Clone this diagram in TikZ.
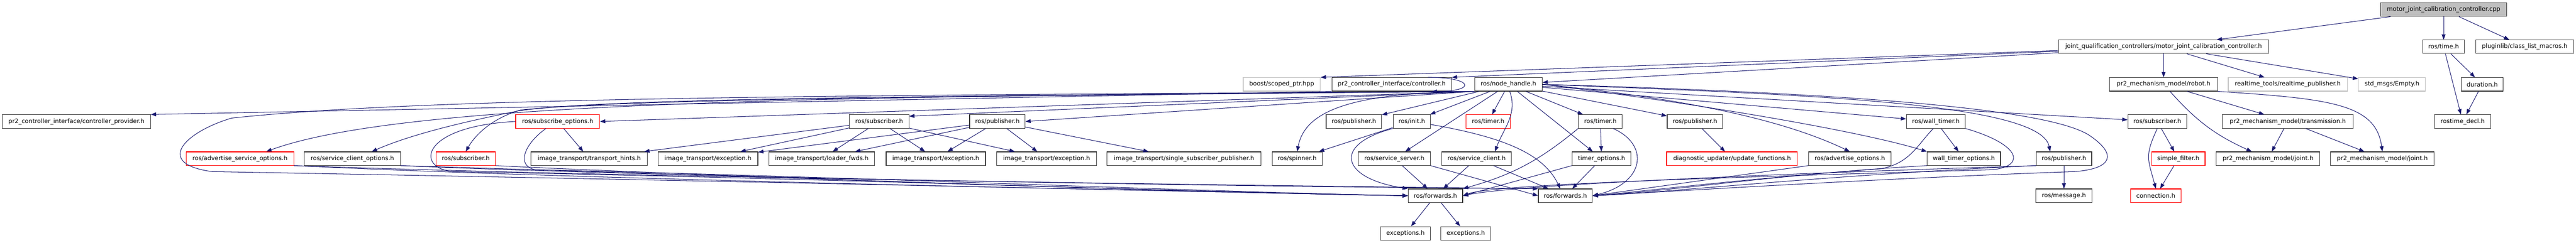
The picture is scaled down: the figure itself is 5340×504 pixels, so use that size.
\documentclass[tikz,border=0pt]{standalone}
\usepackage{fontspec}
\setmainfont{DejaVu Sans}
\usetikzlibrary{arrows.meta}
\definecolor{edgeblue}{RGB}{25,25,112}
\definecolor{extgray}{RGB}{191,191,191}
\tikzset{
    hfile/.style={
           rectangle,
           draw=black!80, line width=1.2pt,
           minimum height=28pt,
           inner sep=1pt,
           text centered,
           font=\fontsize{12.5}{15}\selectfont,
           },
    extfile/.style={hfile, draw=extgray},
    truncfile/.style={hfile, draw=red},
    rootfile/.style={hfile, fill=extgray},
    dep/.style={->, draw=edgeblue, line width=1.1pt},
}

\begin{document}
\begin{tikzpicture}[x=1pt, y=-1pt, >={Triangle[length=11pt,width=8pt]}, every edge/.style={dep}]
\useasboundingbox (0,0) rectangle (5340,504);

        % the source file
        \node[rootfile, minimum width=261pt] (H_ROOT) at (5065.5,20) {motor\_joint\_calibration\_controller.cpp};

        % row 1
        \node[hfile, minimum width=436pt] (H_MJCC) at (4485,97) {joint\_qualification\_controllers/motor\_joint\_calibration\_controller.h};
        \node[hfile, minimum width=87pt] (H_TIME) at (5065.5,97) {ros/time.h};
        \node[hfile, minimum width=203pt] (H_PLUGIN) at (5233.5,97) {pluginlib/class\_list\_macros.h};

        % row 2
        \node[extfile, minimum width=160pt] (H_SCOPED) at (2657,175) {boost/scoped\_ptr.hpp};
        \node[hfile, minimum width=248pt] (H_CTRL) at (2885,175) {pr2\_controller\_interface/controller.h};
        \node[hfile, minimum width=140pt] (H_NH) at (3127,175) {ros/node\_handle.h};
        \node[hfile, minimum width=224pt] (H_ROBOT) at (4485,175) {pr2\_mechanism\_model/robot.h};
        \node[extfile, minimum width=247pt] (H_RTPUB) at (4742.5,175) {realtime\_tools/realtime\_publisher.h};
        \node[extfile, minimum width=139pt] (H_EMPTY) at (4958.5,175) {std\_msgs/Empty.h};
        \node[hfile, minimum width=87pt] (H_DURATION) at (5145.5,175) {duration.h};

        % row 3
        \node[hfile, minimum width=307pt] (H_PROVIDER) at (158.5,252) {pr2\_controller\_interface/controller\_provider.h};
        \node[truncfile, minimum width=174pt] (H_SUBOPT) at (1156,252) {ros/subscribe\_options.h};
        \node[hfile, minimum width=123pt] (H_ITSUB) at (1822.5,252) {ros/subscriber.h};
        \node[hfile, minimum width=115pt] (H_ITPUB) at (2067.5,252) {ros/publisher.h};
        \node[hfile, minimum width=115pt] (H_PUB2) at (2806.5,252) {ros/publisher.h};
        \node[hfile, minimum width=77pt] (H_INIT) at (2926.5,252) {ros/init.h};
        \node[truncfile, minimum width=92pt] (H_TIMERR) at (3085,252) {ros/timer.h};
        \node[hfile, minimum width=91pt] (H_TIMER) at (3317.5,252) {ros/timer.h};
        \node[hfile, minimum width=115pt] (H_PUB3) at (3513.5,252) {ros/publisher.h};
        \node[hfile, minimum width=122pt] (H_WALL) at (4013,252) {ros/wall\_timer.h};
        \node[hfile, minimum width=122pt] (H_SUB4) at (4472,252) {ros/subscriber.h};
        \node[hfile, minimum width=271pt] (H_TRANS) at (4742.5,252) {pr2\_mechanism\_model/transmission.h};
        \node[hfile, minimum width=116pt] (H_DECL) at (5105,252) {rostime\_decl.h};

        % row 4
        \node[truncfile, minimum width=223pt] (H_ADVSRV) at (497.5,329) {ros/advertise\_service\_options.h};
        \node[hfile, minimum width=199pt] (H_SRVCLIOPT) at (730.5,329) {ros/service\_client\_options.h};
        \node[truncfile, minimum width=123pt] (H_SUBR) at (965.5,329) {ros/subscriber.h};
        \node[hfile, minimum width=241pt] (H_HINTS) at (1221.5,329) {image\_transport/transport\_hints.h};
        \node[hfile, minimum width=207pt] (H_EXC1) at (1467.5,329) {image\_transport/exception.h};
        \node[hfile, minimum width=219pt] (H_LOADER) at (1703.5,329) {image\_transport/loader\_fwds.h};
        \node[hfile, minimum width=206pt] (H_EXC2) at (1940,329) {image\_transport/exception.h};
        \node[hfile, minimum width=207pt] (H_EXC3) at (2169.5,329) {image\_transport/exception.h};
        \node[hfile, minimum width=319pt] (H_SINGLE) at (2454.5,329) {image\_transport/single\_subscriber\_publisher.h};
        \node[hfile, minimum width=104pt] (H_SPINNER) at (2689,329) {ros/spinner.h};
        \node[hfile, minimum width=149pt] (H_SRVSRV) at (2890.5,329) {ros/service\_server.h};
        \node[hfile, minimum width=144pt] (H_SRVCLI) at (3061,329) {ros/service\_client.h};
        \node[hfile, minimum width=122pt] (H_TIMEROPT) at (3320,329) {timer\_options.h};
        \node[truncfile, minimum width=271pt] (H_DIAG) at (3590.5,329) {diagnostic\_updater/update\_functions.h};
        \node[hfile, minimum width=171pt] (H_ADVOPT) at (3834.5,329) {ros/advertise\_options.h};
        \node[hfile, minimum width=152pt] (H_WALLOPT) at (4071,329) {wall\_timer\_options.h};
        \node[hfile, minimum width=115pt] (H_PUB4) at (4278.5,329) {ros/publisher.h};
        \node[truncfile, minimum width=111pt] (H_FILTER) at (4515.5,329) {simple\_filter.h};
        \node[hfile, minimum width=215pt] (H_JOINT1) at (4701.5,329) {pr2\_mechanism\_model/joint.h};
        \node[hfile, minimum width=215pt] (H_JOINT2) at (4938.5,329) {pr2\_mechanism\_model/joint.h};

        % row 5
        \node[hfile, minimum width=113pt] (H_FWD1) at (2975.5,406) {ros/forwards.h};
        \node[hfile, minimum width=112pt] (H_FWD2) at (3245,406) {ros/forwards.h};
        \node[hfile, minimum width=117pt] (H_MSG) at (4278.5,406) {ros/message.h};
        \node[truncfile, minimum width=104pt] (H_CONN) at (4469,406) {connection.h};

        % row 6
        \node[hfile, minimum width=103pt] (H_EXCA) at (2913.5,484) {exceptions.h};
        \node[hfile, minimum width=103pt] (H_EXCB) at (3038.5,484) {exceptions.h};

        % straight includes
        \path
            (H_ROOT)        edge (H_MJCC)
            (H_ROOT)        edge (H_TIME)
            (H_ROOT)        edge (H_PLUGIN)
            (H_TIME)        edge (H_DURATION)
            (H_TIME)        edge (H_DECL)
            (H_DURATION)    edge (H_DECL)
            (H_MJCC)        edge (H_SCOPED.north east)
            (H_MJCC)        edge (H_CTRL.north east)
            (H_MJCC)        edge (H_NH)
            (H_MJCC)        edge (H_ROBOT)
            (H_MJCC)        edge (H_RTPUB)
            (H_MJCC)        edge (H_EMPTY)
            (H_CTRL.south west) edge (H_PROVIDER.north east)
            (H_CTRL.11)     edge[out=0, in=0, looseness=8] (H_CTRL.-10)
            (H_NH.south west) edge (H_SUBOPT.east)
            (H_NH.south west) edge (H_ITSUB.10)
            (H_NH.south west) edge (H_ITPUB.east)
            (H_NH)          edge (H_PUB2)
            (H_NH)          edge (H_INIT)
            (H_NH)          edge (H_SRVSRV)
            (H_NH)          edge (H_TIMERR)
            (H_NH.-80)      edge[out=-70, in=70] (H_SRVCLI.21)
            (H_NH)          edge (H_TIMER)
            (H_NH)          edge (H_TIMEROPT)
            (H_NH)          edge (H_PUB3)
            (H_NH)          edge (H_WALL)
            (H_NH)          edge (H_SUB4)
            (H_SUBOPT)      edge (H_HINTS)
            (H_ITSUB)       edge (H_HINTS)
            (H_ITSUB)       edge (H_EXC1)
            (H_ITSUB)       edge (H_LOADER)
            (H_ITSUB)       edge (H_EXC2)
            (H_ITSUB)       edge (H_EXC3)
            (H_ITPUB)       edge (H_EXC1)
            (H_ITPUB)       edge (H_LOADER)
            (H_ITPUB)       edge (H_EXC2)
            (H_ITPUB)       edge (H_EXC3)
            (H_ITPUB)       edge (H_SINGLE)
            (H_INIT)        edge (H_SPINNER)
            (H_SRVSRV)      edge (H_FWD1)
            (H_SRVSRV.south east) edge (H_FWD2.west)
            (H_SRVCLI)      edge (H_FWD1)
            (H_SRVCLI)      edge (H_FWD2)
            (H_TIMER)       edge (H_TIMEROPT)
            (H_TIMER.south west) edge[bend left=12] (H_FWD1.north east)
            (H_TIMEROPT)    edge (H_FWD2)
            (H_TIMEROPT.south west) edge (H_FWD1.east)
            (H_PUB3)        edge (H_DIAG)
            (H_ADVOPT.south west) edge (H_FWD2.east)
            (H_WALL)        edge (H_WALLOPT)
            (H_PUB4)        edge (H_MSG)
            (H_SUB4)        edge (H_FILTER)
            (H_SUB4.south)  edge[out=-115, in=105, looseness=1.3] (H_CONN.north)
            (H_FILTER)      edge (H_CONN)
            (H_ROBOT)       edge[bend right=12] (H_JOINT1)
            (H_ROBOT)       edge (H_TRANS)
            (H_TRANS)       edge (H_JOINT1)
            (H_TRANS)       edge (H_JOINT2)
            (H_FWD1)        edge (H_EXCA)
            (H_FWD1)        edge (H_EXCB)
            ;

        % routed includes, left side
        \draw[dep] (H_NH.south west) .. controls (2000,200) and (1300,205) .. (1080,228)
                   .. controls (1020,245) and (985,280) .. (H_SUBR.north);
        \draw[dep] (H_NH.south west) .. controls (1800,200) and (1250,205) .. (1075,230)
                   .. controls (950,255) and (850,280) .. (H_SRVCLIOPT.20);
        \draw[dep] (H_NH.south west) .. controls (1800,200) and (850,205) .. (H_ADVSRV.15);
        \draw[dep] (H_NH.south west) .. controls (2800,192) and (2705,230) .. (H_SPINNER.north);
        \draw[dep] (H_NH.south west) .. controls (1800,198) and (900,200) .. (480,245)
                   .. controls (380,275) and (320,340) .. (440,356)
                   .. controls (1500,375) and (2500,398) .. (H_FWD1.west);
        \draw[dep] (H_ADVSRV.south east) .. controls (1200,372) and (2400,396) .. (H_FWD1.west);
        \draw[dep] (H_ADVSRV.south east) .. controls (1300,368) and (2600,385) .. (H_FWD2.north west);
        \draw[dep] (H_SRVCLIOPT.south east) .. controls (1400,360) and (2400,398) .. (H_FWD1.west);
        \draw[dep] (H_SRVCLIOPT.south east) .. controls (1400,368) and (2600,388) .. (H_FWD2.north west);
        \draw[dep] (H_SUBR.south east) .. controls (1400,362) and (2400,398) .. (H_FWD1.west);
        \draw[dep] (H_SUBOPT.-149) .. controls (1085,300) and (1070,345) .. (1110,352)
                   .. controls (1800,368) and (2500,398) .. (H_FWD1.west);
        \draw[dep] (H_SUBOPT.west) .. controls (870,262) and (860,350) .. (940,356)
                   .. controls (1800,372) and (2500,400) .. (H_FWD1.west);
        \draw[dep] (H_INIT.south west) .. controls (2760,300) and (2780,370) .. (H_FWD1.north west);
        \draw[dep] (H_INIT.-9) .. controls (3120,285) and (3200,320) .. (H_FWD2.126);

        % routed includes, right side
        \draw[dep] (H_TIMER.-29) .. controls (3420,300) and (3410,380) .. (H_FWD2.east);
        \draw[dep] (H_NH.east) .. controls (3450,200) and (3680,240) .. (H_ADVOPT.north);
        \draw[dep] (H_NH.east) .. controls (3500,212) and (3850,270) .. (H_WALLOPT.north west);
        \draw[dep] (H_NH.east) .. controls (3700,195) and (4230,210) .. (H_PUB4.153);
        \draw[dep] (H_NH.east) .. controls (3900,195) and (4250,230) .. (4330,280)
                   .. controls (4390,320) and (4380,350) .. (4300,356)
                   .. controls (3900,370) and (3500,395) .. (H_FWD2.east);
        \draw[dep] (H_WALL.-110) .. controls (3975,300) and (3960,338) .. (3900,350)
                   .. controls (3600,372) and (3400,398) .. (H_FWD2.east);
        \draw[dep] (H_WALL.south east) .. controls (4190,300) and (4200,345) .. (4130,352)
                   .. controls (3700,365) and (3100,380) .. (H_FWD1.east);
        \draw[dep] (H_WALLOPT.south west) .. controls (3700,360) and (3450,398) .. (H_FWD2.east);
        \draw[dep] (H_PUB4.south west) .. controls (3800,362) and (3450,400) .. (H_FWD2.east);
        \draw[dep] (H_PUB4.south west) .. controls (3700,360) and (3150,382) .. (H_FWD1.east);
        \draw[dep] (H_ROBOT.south east) .. controls (4830,205) and (4925,215) .. (H_JOINT2.north);

\end{tikzpicture}
\end{document}
